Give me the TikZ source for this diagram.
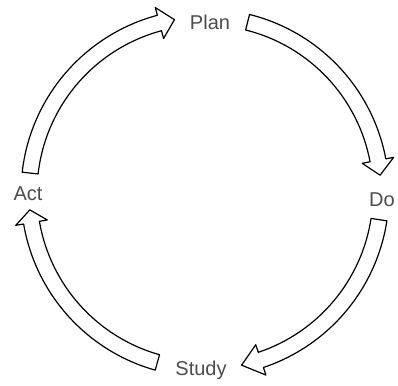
\documentclass[tikz,border=0pt]{standalone}
\usepackage{fontspec}
\setmainfont{Liberation Sans}
\usetikzlibrary{calc}
\begin{document}
\begin{tikzpicture}[x=1pt,y=-1pt,
  label/.style={font=\fontsize{20}{24}\selectfont, text=black!70, anchor=base, inner sep=0pt},
  blockarrow/.style={draw=black, line width=1.2pt, line join=round, fill=white}]
\useasboundingbox (0,0) rectangle (398,385);
\coordinate (C) at (205,193);
% labels
\node[label] (plan) at (210,30) {Plan};
\node[label] (do) at (382,206) {Do};
\node[label] (study) at (201,375) {Study};
\node[label] (act) at (28,200) {Act};
% block arrows: tail angle / shaft end angle / tip angle
\foreach \t/\s/\h in {173.5/105/100, 76/10.7/5.8, -8.7/-71.5/-78, 254.3/189.7/185.5}{
  \draw[blockarrow]
    ($(C)+(\t:184pt)$) arc[start angle=\t, end angle=\s, radius=184pt]
    -- ($(C)+(\s:192pt)$) -- ($(C)+(\h:176pt)$) -- ($(C)+(\s:160pt)$)
    -- ($(C)+(\s:168pt)$) arc[start angle=\s, end angle=\t, radius=168pt]
    -- cycle;
}
\end{tikzpicture}
\end{document}
